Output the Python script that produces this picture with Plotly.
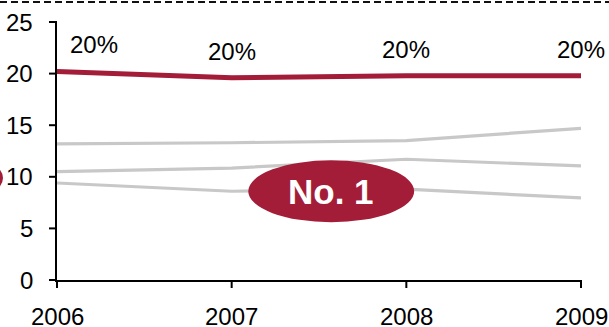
import plotly.graph_objects as go

# Years on the x axis
years = [2006, 2007, 2008, 2009]

# Share of the leading company (red) and three competitors (grey)
leader = [20.2, 19.6, 19.8, 19.8]
rival_a = [13.2, 13.3, 13.5, 14.7]
rival_b = [10.5, 10.85, 11.7, 11.05]
rival_c = [9.4, 8.6, 8.8, 7.95]

# Percentage labels above the leader line
leader_labels = ["20%", "20%", "20%", "20%"]
label_x = [2006.21, 2007, 2008, 2009]
label_y = [22.8, 22.1, 22.3, 22.3]

y_ticks = [0, 5, 10, 15, 20, 25]

RED = "#A31C38"
GREY = "#C8C8C8"
FONT = "Liberation Sans, Arial, sans-serif"

X_RANGE = [2006, 2009]
Y_RANGE = [0, 25]

# Plot area geometry (pixels)
W, H = 609, 327
L, R, T, B = 57, 28, 22, 47
pw, ph = W - L - R, H - T - B
TICK_LEN = 8

fig = go.Figure()

for series in (rival_a, rival_b, rival_c):
    fig.add_trace(go.Scatter(x=years, y=series, mode="lines",
                             line=dict(color=GREY, width=3.2),
                             hoverinfo="skip", showlegend=False))

fig.add_trace(go.Scatter(x=years, y=leader, mode="lines",
                         line=dict(color=RED, width=5),
                         hoverinfo="skip", showlegend=False))

for x, y, t in zip(label_x, label_y, leader_labels):
    fig.add_annotation(x=x, y=y, text=t, showarrow=False,
                       font=dict(family=FONT, size=24, color="black"),
                       xanchor="center", yanchor="middle")

# Tick labels and tick marks, set a little further from the axes
tick_font = dict(family=FONT, size=24, color="black")
for yr in years:
    fig.add_annotation(x=yr, y=-36 / ph, xref="x", yref="paper", text=str(yr),
                       showarrow=False, font=tick_font,
                       xanchor="center", yanchor="middle")
    px = (yr - X_RANGE[0]) / (X_RANGE[1] - X_RANGE[0])
    fig.add_shape(type="line", xref="paper", yref="paper",
                  x0=px, x1=px, y0=0, y1=-TICK_LEN / ph,
                  line=dict(color="black", width=2), layer="above")
for v in y_ticks:
    fig.add_annotation(x=-22 / pw, y=v, xref="paper", yref="y", text=str(v),
                       showarrow=False, font=tick_font,
                       xanchor="right", yanchor="middle")
    py = (v - Y_RANGE[0]) / (Y_RANGE[1] - Y_RANGE[0])
    fig.add_shape(type="line", xref="paper", yref="paper",
                  x0=0, x1=-TICK_LEN / pw, y0=py, y1=py,
                  line=dict(color="black", width=2), layer="above")

# "No. 1" badge
fig.add_shape(type="circle", xref="x", yref="y",
              x0=2007.095, x1=2008.045, y0=5.6, y1=11.6,
              fillcolor=RED, line=dict(width=0), layer="above")
fig.add_annotation(x=2007.57, y=8.6, text="<b>No. 1</b>", showarrow=False,
                   font=dict(family=FONT, size=35, color="white"),
                   xanchor="center", yanchor="middle")

# Edge of a second badge cut off at the left border
fig.add_shape(type="circle", xref="paper", yref="paper",
              x0=(-163 - L) / pw, x1=(3 - L) / pw,
              y0=(280 - 209) / ph, y1=(280 - 147) / ph,
              fillcolor=RED, line=dict(width=0), layer="above")

# Dashed rule across the top
fig.add_shape(type="line", xref="paper", yref="paper",
              x0=-L / pw, x1=1 + R / pw,
              y0=(280 - 2) / ph, y1=(280 - 2) / ph,
              line=dict(color="#111111", width=2, dash="7px,4px"))

fig.update_layout(
    width=W, height=H,
    margin=dict(l=L, r=R, t=T, b=B, pad=0, autoexpand=False),
    paper_bgcolor="white", plot_bgcolor="white",
    font=dict(family=FONT, size=24, color="black"),
    xaxis=dict(range=X_RANGE, tickvals=years, showticklabels=False,
               showgrid=False, zeroline=False, automargin=False,
               showline=True, linecolor="black", linewidth=2, ticks=""),
    yaxis=dict(range=Y_RANGE, tickvals=y_ticks, showticklabels=False,
               showgrid=False, zeroline=False, automargin=False,
               showline=True, linecolor="black", linewidth=2, ticks=""),
)

fig.write_html("out.html")
